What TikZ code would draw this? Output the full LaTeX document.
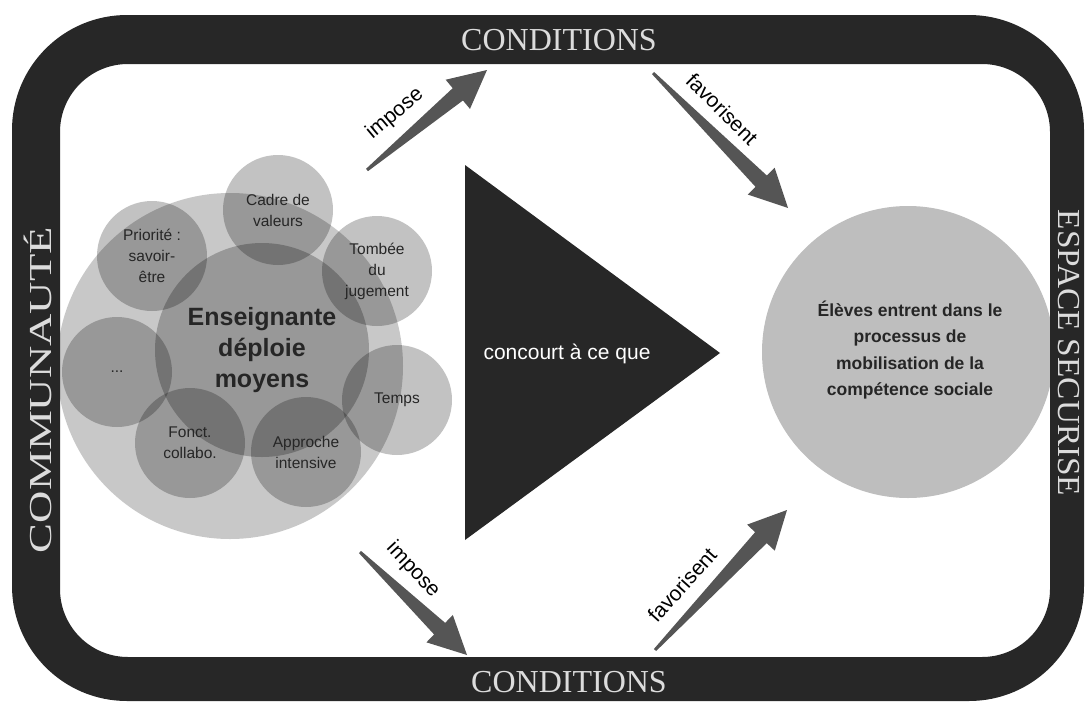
\documentclass[tikz,border=0pt]{standalone}
\usepackage{fontspec}
\setmainfont{Liberation Serif}
\setsansfont{Liberation Sans}
\usetikzlibrary{calc}

\definecolor{framecol}{HTML}{272727}
\definecolor{bandtext}{HTML}{DCDCDC}
\definecolor{outerdisc}{HTML}{C8C8C8}
\definecolor{goaldisc}{HTML}{BEBEBE}
\definecolor{arrowcol}{HTML}{555555}
\definecolor{inktext}{HTML}{262626}

\tikzset{
  banner/.style={font=\fontsize{32}{32}\selectfont, text=bandtext, inner sep=0pt},
  means/.style={circle, fill=black, fill opacity=0.24, text opacity=1, inner sep=0pt,
                minimum size=110pt, align=center, text=inktext,
                font=\sffamily\fontsize{15.5}{21}\selectfont},
  hub/.style={circle, fill=black, fill opacity=0.24, text opacity=1, inner sep=0pt,
              minimum size=214pt, align=center, text=inktext,
              font=\sffamily\bfseries\fontsize{25}{31}\selectfont},
  verb/.style={font=\sffamily\fontsize{21}{21}\selectfont, text=black, inner sep=0pt},
}

% tapered block arrow from coordinate #1 (tail) to coordinate #2 (tip)
\newcommand\taperarrow[2]{%
  \coordinate (#1-neck) at ($(#2)!38pt!(#1)$);
  \fill[arrowcol]
    ($(#1)!1.5pt!90:(#2)$) -- ($(#1-neck)!8pt!90:(#2)$) -- ($(#1-neck)!19pt!90:(#2)$)
    -- (#2)
    -- ($(#1-neck)!19pt!-90:(#2)$) -- ($(#1-neck)!8pt!-90:(#2)$) -- ($(#1)!1.5pt!-90:(#2)$)
    -- cycle;}

\begin{document}
\begin{tikzpicture}[x=1pt, y=-1pt]
  \useasboundingbox (0,0) rectangle (1086,704);

  % left cluster: outer disc, central disc and the surrounding means
  \node[circle, fill=outerdisc, minimum size=346pt, inner sep=0pt] (cluster) at (230,366) {};
  \node[hub] (hub) at (262,350) {Enseignante\\déploie\\moyens};
  \node[means] (cadre)    at (278,210) {Cadre de\\valeurs};
  \node[means] (tombee)   at (377,271) {Tombée\\du\\jugement};
  \node[means] (temps)    at (397,400) {Temps};
  \node[means] (approche) at (306,452) {Approche\\intensive};
  \node[means] (fonct)    at (190,443) {Fonct.\\collabo.};
  \node[means] (etc)      at (117,372) {...};
  \node[means] (priorite) at (152,256) {Priorité :\\savoir-\\être};

  % central triangle
  \fill[framecol] (465,165) -- (720,353) -- (465,540) -- cycle;
  \node[verb, text=white] (concourt) at (567,354) {concourt à ce que};

  % goal disc
  \node[circle, fill=goaldisc, minimum size=292pt, inner sep=0pt] (goal) at (908,352) {};
  \node[align=center, font=\sffamily\bfseries\fontsize{17.5}{26.5}\selectfont, text=inktext]
    (goaltext) at (910,350) {Élèves entrent dans le\\processus de\\mobilisation de la\\compétence sociale};

  % surrounding frame
  \fill[framecol, even odd rule]
    [rounded corners=115pt] (12,15) rectangle (1084,701)
    [rounded corners=68pt] (60,64) rectangle (1050,657);
  \node[banner] (condtop) at (559,40) {CONDITIONS};
  \node[banner] (condbot) at (569,682) {CONDITIONS};
  \node[banner, rotate=90, xscale=1.4] (communaute) at (38,390) {COMMUNAUTÉ};
  \node[banner, rotate=-90, xscale=1.04] (espace) at (1069,353) {ESPACE SECURISE};

  % arrows between the cluster, the conditions and the goal
  \coordinate (a1) at (367,170); \coordinate (b1) at (487,70);
  \coordinate (a2) at (653,73);  \coordinate (b2) at (788,208);
  \coordinate (a3) at (360,552); \coordinate (b3) at (467,655);
  \coordinate (a4) at (655,650); \coordinate (b4) at (787,510);
  \taperarrow{a1}{b1}
  \taperarrow{a2}{b2}
  \taperarrow{a3}{b3}
  \taperarrow{a4}{b4}
  \node[verb, rotate=40]  (imp1) at (395,114) {impose};
  \node[verb, rotate=-45] (fav1) at (722,109) {favorisent};
  \node[verb, rotate=-47] (imp2) at (413,570) {impose};
  \node[verb, rotate=48]  (fav2) at (682,585) {favorisent};
\end{tikzpicture}
\end{document}
